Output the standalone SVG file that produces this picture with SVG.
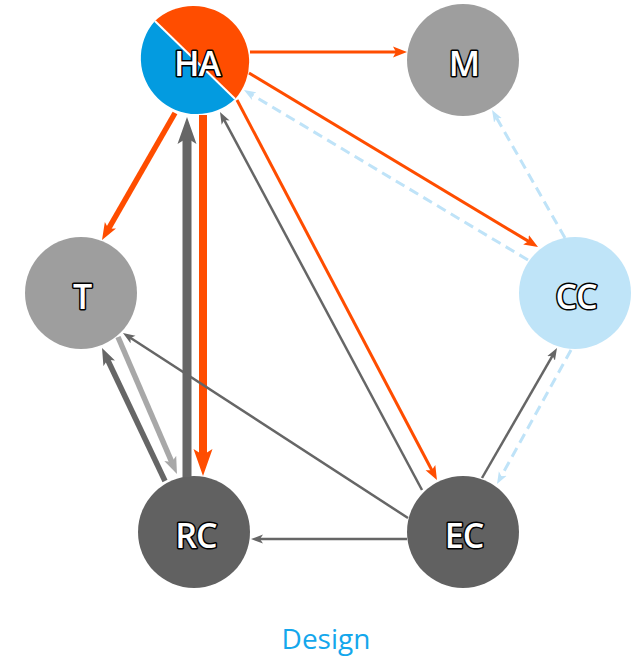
<svg xmlns="http://www.w3.org/2000/svg" width="634" height="664" viewBox="0 0 634 664">
<style>
.lbl{font-family:"Open Sans","Liberation Sans",sans-serif;font-weight:600;font-size:34px;font-stretch:95%;fill:#fff;stroke:#000;stroke-width:3;paint-order:stroke;stroke-linejoin:round;text-anchor:middle;letter-spacing:-1px}
.e{fill:none;stroke-linecap:butt}
.gray{stroke:#666}
.orange{stroke:#ff4d00}
.lgray{stroke:#a8a8a8}
.blue{stroke:#bfe3f8;stroke-dasharray:10 6}
.thin{stroke-width:2.5}
.thinO{stroke-width:3}
.med{stroke-width:5.5}
.thick{stroke-width:9}
.title{font-family:"Open Sans","Liberation Sans",sans-serif;font-size:28px;fill:#14a7ec;text-anchor:middle}
</style>
<defs>
<marker id="tG" markerUnits="userSpaceOnUse" markerWidth="12" markerHeight="10" viewBox="0 -5 12 10" refX="6" refY="0" orient="auto"><path d="M0,-4.5 L12,0 L0,4.5 L3,0 Z" fill="#666"/></marker>
<marker id="tO" markerUnits="userSpaceOnUse" markerWidth="14" markerHeight="12" viewBox="0 -6 14 12" refX="7" refY="0" orient="auto"><path d="M0,-5.5 L14,0 L0,5.5 L3,0 Z" fill="#ff4d00"/></marker>
<marker id="tB" markerUnits="userSpaceOnUse" markerWidth="12" markerHeight="10" viewBox="0 -5 12 10" refX="6" refY="0" orient="auto"><path d="M0,-4.5 L12,0 L0,4.5 L3,0 Z" fill="#bfe3f8"/></marker>
<marker id="mO" markerUnits="userSpaceOnUse" markerWidth="17" markerHeight="14" viewBox="0 -7 17 14" refX="7" refY="0" orient="auto"><path d="M0,-6.5 L17,0 L0,6.5 L4,0 Z" fill="#ff4d00"/></marker>
<marker id="mG" markerUnits="userSpaceOnUse" markerWidth="17" markerHeight="14" viewBox="0 -7 17 14" refX="7" refY="0" orient="auto"><path d="M0,-6.5 L17,0 L0,6.5 L4,0 Z" fill="#666"/></marker>
<marker id="mL" markerUnits="userSpaceOnUse" markerWidth="17" markerHeight="14" viewBox="0 -7 17 14" refX="7" refY="0" orient="auto"><path d="M0,-6.5 L17,0 L0,6.5 L4,0 Z" fill="#a8a8a8"/></marker>
<marker id="kO" markerUnits="userSpaceOnUse" markerWidth="27" markerHeight="20" viewBox="0 -10 27 20" refX="11" refY="0" orient="auto"><path d="M0,-9.5 L27,0 L0,9.5 L6,0 Z" fill="#ff4d00"/></marker>
<marker id="kG" markerUnits="userSpaceOnUse" markerWidth="27" markerHeight="20" viewBox="0 -10 27 20" refX="11" refY="0" orient="auto"><path d="M0,-9.5 L27,0 L0,9.5 L6,0 Z" fill="#666"/></marker>
</defs>
<rect width="634" height="664" fill="#fff"/>
<g id="HA">
<path d="M154.9,21 A56,56 0 0 1 235.1,99 Z" fill="#ff4d00"/>
<path d="M154.9,21 A56,56 0 0 0 235.1,99 Z" fill="#039be0"/>
<line x1="154.9" y1="21" x2="235.1" y2="99" stroke="#fff" stroke-width="2"/>
<text class="lbl" x="197" y="76">HA</text>
</g>
<g id="M"><circle cx="463" cy="60" r="56" fill="#9e9e9e"/><text class="lbl" x="464" y="76">M</text></g>
<g id="T"><circle cx="81" cy="293" r="56" fill="#9e9e9e"/><text class="lbl" x="82" y="309">T</text></g>
<g id="CC"><circle cx="575" cy="293" r="56" fill="#bfe4f8"/><text class="lbl" x="576" y="309">CC</text></g>
<g id="RC"><circle cx="194" cy="532" r="56" fill="#616161"/><text class="lbl" x="196" y="548">RC</text></g>
<g id="EC"><circle cx="463" cy="532" r="56" fill="#616161"/><text class="lbl" x="464" y="548">EC</text></g>
<g id="connectors">
<line class="e orange thinO" x1="250" y1="52" x2="400" y2="52" marker-end="url(#tO)"/>
<line class="e orange med" x1="175" y1="113" x2="107" y2="231.3" marker-end="url(#mO)"/>
<line class="e orange thick" style="stroke-width:8" x1="203" y1="115" x2="203" y2="460" marker-end="url(#kO)"/>
<line class="e gray thick" x1="187" y1="477" x2="187" y2="133" marker-end="url(#kG)"/>
<line class="e lgray med" x1="118" y1="337" x2="173" y2="464.8" marker-end="url(#mL)"/>
<line class="e gray med" x1="165" y1="481" x2="106.3" y2="357" marker-end="url(#mG)"/>
<line class="e gray thin" x1="408" y1="518" x2="128" y2="336.3" marker-end="url(#tG)"/>
<line class="e gray thin" x1="407" y1="539" x2="257" y2="539" marker-end="url(#tG)"/>
<line class="e gray thin" x1="422" y1="490" x2="222.8" y2="117.3" marker-end="url(#tG)"/>
<line class="e orange thinO" x1="237" y1="100" x2="433.7" y2="473.8" marker-end="url(#tO)"/>
<line class="e orange thinO" x1="249" y1="73" x2="532" y2="243.4" marker-end="url(#tO)"/>
<line class="e blue thinO" x1="528" y1="260" x2="249.1" y2="93.1" marker-end="url(#tB)"/>
<line class="e blue thinO" x1="565" y1="238" x2="495" y2="115.2" marker-end="url(#tB)"/>
<line class="e gray thin" x1="482" y1="478" x2="554" y2="353.2" marker-end="url(#tG)"/>
<line class="e blue thinO" x1="571" y1="350" x2="499.9" y2="478.8" marker-end="url(#tB)"/>
</g>
<text class="title" x="326" y="649">Design</text>
</svg>
